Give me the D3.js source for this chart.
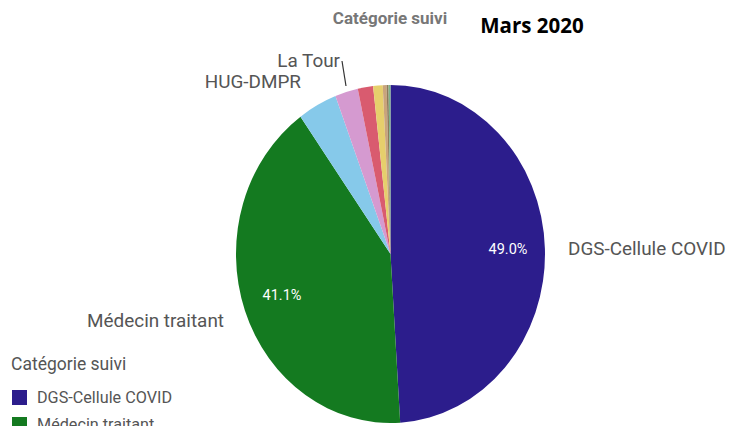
<!DOCTYPE html>
<html><head><meta charset="utf-8">
<script src="https://cdn.jsdelivr.net/npm/d3@7"></script>
<style>body{margin:0;background:#fff}</style>
</head><body>
<svg id="c" width="729" height="426"></svg>
<script>
const categories = ["DGS-Cellule COVID","Médecin traitant","HUG-DMPR","La Tour","Autre 1","Autre 2","Autre 3","Autre 4","Autre 5"];
const values = [49.0, 41.1, 4.1, 2.4, 1.6, 1.0, 0.4, 0.2, 0.2];
const colors = ["#2c1d8c","#147a20","#86c9ea","#d59ad0","#d95b6f","#e6cf6c","#c9a47c","#8f7b5a","#7fb38a"];
const legendItems = ["DGS-Cellule COVID","Médecin traitant"];

const svg = d3.select("#c");
const cx = 390.5, cy = 254, r = 154.5, sy = 169/154.5;
const g = svg.append("g").attr("transform", `translate(${cx},${cy}) scale(1,${sy})`);
const pie = d3.pie().sort(null).value(d => d)(values);
const arc = d3.arc().innerRadius(0).outerRadius(r);
g.selectAll("path").data(pie).join("path")
  .attr("d", arc).attr("fill", (d,i) => colors[i]);

const fontMain = "Roboto, 'Noto Sans', sans-serif";
// inside percent labels
const inPos = [[508, 249], [282, 295]];
[0,1].forEach(i => {
  svg.append("text").attr("x", inPos[i][0]).attr("y", inPos[i][1])
    .attr("text-anchor","middle").attr("dominant-baseline","central")
    .attr("fill","#fff").attr("font-family", fontMain).attr("font-size", 14.5)
    .text(values[i].toFixed(1) + "%");
});

// outside labels
const outLabel = (txt, x, y, anchor) => svg.append("text").attr("x", x).attr("y", y)
  .attr("text-anchor", anchor).attr("dominant-baseline","central")
  .attr("fill","#555").attr("font-family", fontMain).attr("font-size", 18.9).text(txt);
outLabel(categories[0], 568, 248, "start");
outLabel(categories[1], 224, 320, "end");
outLabel(categories[2], 301, 81, "end");
outLabel(categories[3], 340, 60, "end");
svg.append("line").attr("x1",342).attr("y1",61).attr("x2",346).attr("y2",86)
  .attr("stroke","#333").attr("stroke-width",1.2);

// titles
svg.append("text").attr("x", 390).attr("y", 18).attr("text-anchor","middle")
  .attr("dominant-baseline","central").attr("fill","#777")
  .attr("font-family", fontMain).attr("font-weight","bold").attr("font-size", 17)
  .text("Catégorie suivi");
svg.append("text").attr("x", 532).attr("y", 25).attr("text-anchor","middle")
  .attr("dominant-baseline","central").attr("fill","#000")
  .attr("font-family", "'Open Sans', sans-serif").attr("font-weight","bold").attr("font-size", 20.5)
  .text("Mars 2020");

// legend
svg.append("text").attr("x", 11).attr("y", 364).attr("dominant-baseline","central")
  .attr("fill","#555").attr("font-family", fontMain).attr("font-size", 17.5).text("Catégorie suivi");
legendItems.forEach((t, i) => {
  const y = 390 + i*27;
  svg.append("rect").attr("x", 12).attr("y", y).attr("width", 15).attr("height", 15).attr("fill", colors[i]);
  svg.append("text").attr("x", 37).attr("y", y + 7).attr("dominant-baseline","central")
    .attr("fill","#555").attr("font-family", fontMain).attr("font-size", 16.2).text(t);
});
</script>
</body></html>
